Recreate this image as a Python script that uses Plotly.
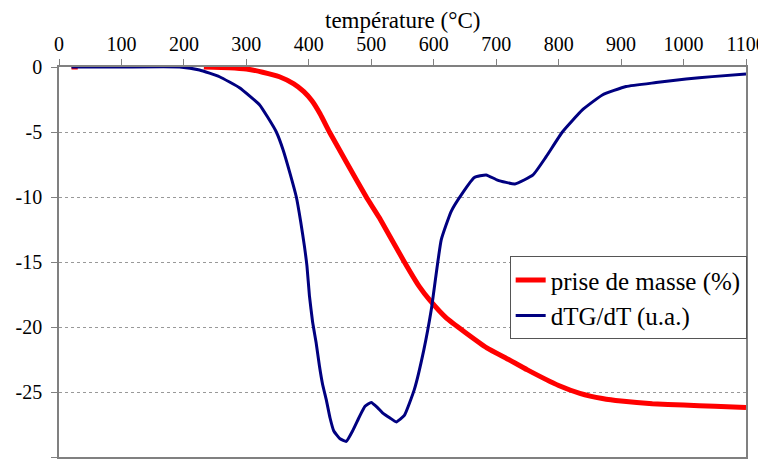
import plotly.graph_objects as go

# prise de masse (%) vs température
temp_masse = [20, 30, None, 232, 272, 300, 326, 353, 376, 392, 405, 418, 433, 460, 492,
              513, 553, 577, 593, 620, 650, 685, 720, 750, 800, 834, 870, 900, 950,
              1000, 1050, 1100]
masse = [0, 0, None, 0, -0.05, -0.15, -0.4, -0.75, -1.3, -1.9, -2.6, -3.6, -5.0, -7.3, -10.0,
         -11.6, -15.0, -16.9, -17.9, -19.3, -20.4, -21.6, -22.5, -23.3, -24.5, -25.1, -25.5, -25.7, -25.9,
         -26.0, -26.1, -26.2]

# dTG/dT (u.a.)
temp_dtg = [20, 100, 193, 225, 257, 289, 321, 334, 348, 359, 370, 380, 387, 393, 397,
            401, 406, 412, 417, 422, 428, 434, 440, 450, 460, 470, 481, 490, 500, 510, 518,
            530, 540, 553, 569, 584, 596, 612, 628, 646, 665, 684, 702, 730, 759,
            780, 806, 838, 870, 908, 956, 1004, 1046, 1100]
dtg = [0, 0, 0, -0.23, -0.75, -1.6, -2.9, -3.85, -5.0, -6.4, -8.2, -10.0, -11.9, -13.8, -15.3,
       -17.6, -19.6, -21.3, -23.0, -24.4, -25.6, -27.0, -28.0, -28.6, -28.8, -28.0, -26.9, -26.1, -25.8, -26.2, -26.6,
       -27.0, -27.3, -26.8, -24.8, -21.8, -18.7, -13.3, -11.1, -9.7, -8.5, -8.3, -8.7, -9.0, -8.3,
       -6.9, -5.0, -3.3, -2.15, -1.5, -1.2, -0.92, -0.74, -0.54]

y_ticks = [0, -5, -10, -15, -20, -25, -30]
y_labels = ["0", "-5", "-10", "-15", "-20", "-25", "-30"]

fig = go.Figure()

fig.add_trace(go.Scatter(x=temp_masse, y=masse, mode="lines",
                         name="prise de masse (%)",
                         line=dict(color="#ff0000", width=5, shape="spline", smoothing=0.4)))
fig.add_trace(go.Scatter(x=temp_dtg, y=dtg, mode="lines",
                         name="dTG/dT (u.a.)",
                         line=dict(color="#000080", width=3, shape="spline", smoothing=0.4)))

# page body has an 8px margin, so the figure is 8px smaller than the window
fig.update_layout(
    width=758, height=457,
    margin=dict(l=51, r=20, t=59, b=8),
    paper_bgcolor="white", plot_bgcolor="white",
    font=dict(family="Liberation Serif", size=20, color="black"),
    legend=dict(x=0.656, y=0.515, xanchor="left", yanchor="top",
                bordercolor="#555555", borderwidth=1, bgcolor="white",
                font=dict(size=25), tracegroupgap=0, itemwidth=30),
    xaxis=dict(
        side="top", range=[0, 1100], dtick=100, automargin=False,
        showgrid=False, zeroline=False,
        showline=True, linecolor="#808080", linewidth=1.5, mirror=True,
        ticks="outside", ticklen=6, tickcolor="#808080",
    ),
    yaxis=dict(
        range=[-30, 0], tickvals=y_ticks, ticktext=y_labels, automargin=False,
        showgrid=True, gridcolor="#999999", griddash="dot", gridwidth=1,
        zeroline=False,
        showline=True, linecolor="#808080", linewidth=1.5, mirror=True,
        ticks="outside", ticklen=6, tickcolor="#808080", ticklabelstandoff=5,
    ),
    annotations=[dict(text="température (°C)", xref="paper", yref="paper",
                      x=0.5, y=1.1205, xanchor="center", yanchor="middle",
                      showarrow=False, font=dict(size=23))],
)

fig.write_html("out.html")
